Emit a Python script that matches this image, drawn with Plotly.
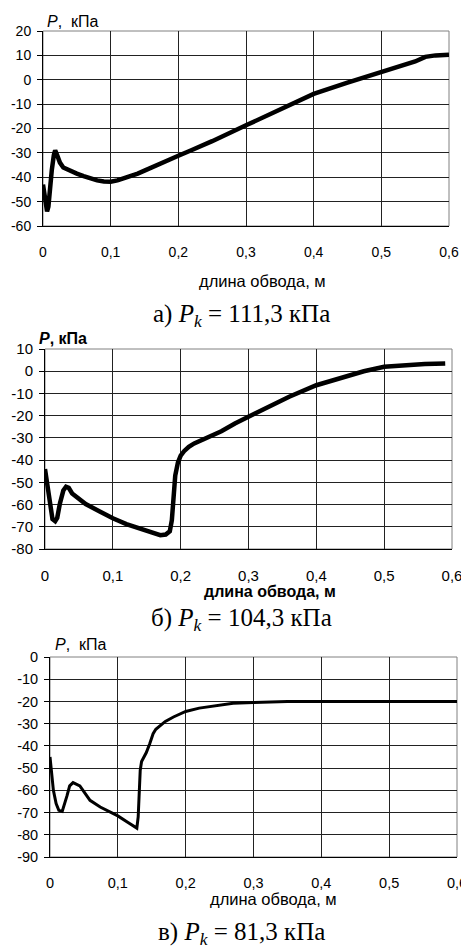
import plotly.graph_objects as go

W, H = 461, 948

# ---------------- data (length along contour, m ; pressure, kPa) -------------
x_a = [0, 0.003, 0.006, 0.008, 0.010, 0.013, 0.016, 0.018, 0.021, 0.025, 0.03,
       0.04, 0.05, 0.06, 0.07, 0.08, 0.09, 0.1, 0.11, 0.12, 0.13, 0.14, 0.15,
       0.16, 0.17, 0.18, 0.19, 0.2, 0.22, 0.25, 0.3, 0.35, 0.4, 0.45, 0.5,
       0.55, 0.565, 0.58, 0.6]
p_a = [-43, -50, -54, -52, -45, -37, -31, -29, -31, -34, -36,
       -37.5, -38.5, -39.5, -40.5, -41.3, -41.7, -41.8, -41.3, -40.5, -39.5, -38.5, -37.3,
       -36, -34.8, -33.5, -32.3, -31.2, -28.8, -25.2, -18.7, -12.5, -5.8, -1.2, 3.2,
       7.5, 9.4, 10, 10.3]

x_b = [0, 0.003, 0.007, 0.011, 0.015, 0.018, 0.022, 0.027, 0.031, 0.035, 0.04,
       0.05, 0.06, 0.08, 0.1, 0.12, 0.14, 0.16, 0.17, 0.178, 0.184, 0.187,
       0.189, 0.192, 0.196, 0.2, 0.205, 0.212, 0.22, 0.24, 0.26, 0.28, 0.3,
       0.33, 0.36, 0.4, 0.44, 0.47, 0.5, 0.53, 0.56, 0.59]
p_b = [-44, -51, -61, -66.5, -67.5, -66, -59.5, -53.7, -52, -52.5, -55,
       -57.5, -59.8, -63, -66.2, -68.8, -71, -73, -73.8, -73.5, -72, -67,
       -57, -47, -41, -38, -36, -34, -32.5, -30, -27, -23.5, -20.5,
       -16, -11.5, -6.3, -2.5, 0, 2, 2.8, 3.2, 3.5]

x_c = [0, 0.002, 0.005, 0.009, 0.013, 0.018, 0.022, 0.025, 0.029, 0.034, 0.044,
       0.059, 0.074, 0.09, 0.1, 0.115, 0.125, 0.128, 0.13, 0.131, 0.132, 0.133,
       0.135, 0.142, 0.147, 0.152, 0.156, 0.16, 0.17, 0.182, 0.2, 0.22, 0.25,
       0.27, 0.3, 0.32, 0.35, 0.4, 0.45, 0.5, 0.55, 0.6]
p_c = [-45, -52, -60, -66, -69, -69.5, -66, -62.5, -58, -56.5, -58,
       -64.5, -67.5, -70, -71.5, -74.5, -76.5, -77, -72, -64, -56, -51,
       -47, -43, -39, -34.5, -32.5, -31.5, -29, -27, -24.5, -23, -21.5,
       -20.8, -20.5, -20.2, -20, -20, -20, -20, -20, -20]

x_ticks = [0, 0.1, 0.2, 0.3, 0.4, 0.5, 0.6]
x_ticktext = ["0", "0,1", "0,2", "0,3", "0,4", "0,5", "0,6"]
y_ticks_a = [20, 10, 0, -10, -20, -30, -40, -50, -60]
y_ticks_b = [10, 0, -10, -20, -30, -40, -50, -60, -70, -80]
y_ticks_c = [0, -10, -20, -30, -40, -50, -60, -70, -80, -90]

captions = ["а) <i>P</i><sub><i>k</i></sub> = 111,3 кПа",
            "б) <i>P</i><sub><i>k</i></sub> = 104,3 кПа",
            "в) <i>P</i><sub><i>k</i></sub> = 81,3 кПа"]
x_title = "длина обвода, м"
y_title = "<i>P</i>,\u00a0\u00a0кПа"
y_title_bold = "<b><i>P</i>, кПа</b>"

# ---------------- layout geometry (pixels) -----------------------------------
def px(x):
    return x / W


def py(y):
    return 1 - y / H


panels = [
    dict(x=x_a, y=p_a, yt=y_ticks_a, left=43, right=449, top=31, bottom=226,
         lw=4.5, tick_size=14),
    dict(x=x_b, y=p_b, yt=y_ticks_b, left=45, right=452, top=349, bottom=549,
         lw=4.5, tick_size=15),
    dict(x=x_c, y=p_c, yt=y_ticks_c, left=50, right=457, top=657, bottom=857,
         lw=3, tick_size=14.5),
]

fig = go.Figure()
layout = dict(
    template="none",
    width=W, height=H, margin=dict(l=0, r=0, t=0, b=0, pad=0),
    paper_bgcolor="white", plot_bgcolor="white", showlegend=False,
    font=dict(family="Liberation Sans, Arial, sans-serif", color="black", size=14),
    separators=", ",
)
shapes = []
annotations = []

for i, p in enumerate(panels):
    n = "" if i == 0 else str(i + 1)
    xa, ya = "x" + n, "y" + n
    fig.add_trace(go.Scatter(
        x=p["x"], y=p["y"], mode="lines", xaxis=xa, yaxis=ya,
        line=dict(color="black", width=p["lw"]),
        hoverinfo="skip"))
    layout["xaxis" + n] = dict(
        domain=[px(p["left"]), px(p["right"])], anchor=ya, automargin=False,
        range=[0, 0.6], tickvals=x_ticks, ticktext=x_ticktext,
        showgrid=True, gridcolor="#222222", gridwidth=1, zeroline=False,
        showline=True, linecolor="black", linewidth=1,
        ticks="", ticklabelstandoff=13, ticklabeloverflow="allow",
        tickfont=dict(size=p["tick_size"]))
    layout["yaxis" + n] = dict(
        domain=[py(p["bottom"]), py(p["top"])], anchor=xa, automargin=False,
        range=[min(p["yt"]), max(p["yt"])], tickvals=p["yt"],
        ticktext=[str(v) for v in p["yt"]],
        showgrid=True, gridcolor="#222222", gridwidth=1, zeroline=False,
        showline=True, linecolor="black", linewidth=1,
        ticks="outside", ticklen=5, tickcolor="black", ticklabelstandoff=3,
        tickfont=dict(size=p["tick_size"]))
    shapes.append(dict(type="rect", xref=xa + " domain", yref=ya + " domain",
                       x0=0, x1=1, y0=0, y1=1,
                       line=dict(color="#808080", width=1), layer="below"))

# y-axis titles
annotations.append(dict(text=y_title, x=px(45), y=py(21), xanchor="left", yanchor="middle",
                        font=dict(size=16)))
annotations.append(dict(text=y_title_bold, x=px(37), y=py(338), xanchor="left", yanchor="middle",
                        font=dict(size=16)))
annotations.append(dict(text=y_title, x=px(53), y=py(644), xanchor="left", yanchor="middle",
                        font=dict(size=16)))
# x-axis titles
annotations.append(dict(text=x_title, x=px(262), y=py(281), xanchor="center", yanchor="middle",
                        font=dict(size=16.5)))
annotations.append(dict(text="<b>" + x_title + "</b>", x=px(270), y=py(591), xanchor="center",
                        yanchor="middle", font=dict(size=16)))
annotations.append(dict(text=x_title, x=px(273), y=py(899), xanchor="center", yanchor="middle",
                        font=dict(size=16.5)))
# captions
for cap, yc in zip(captions, [316, 619, 933]):
    annotations.append(dict(text=cap, x=px(241), y=py(yc), xanchor="center", yanchor="middle",
                            font=dict(size=25, family="Liberation Serif, Times New Roman, serif")))

for a in annotations:
    a.update(xref="paper", yref="paper", showarrow=False)

layout["shapes"] = shapes
layout["annotations"] = annotations
fig.update_layout(**layout)
fig.write_html(
    "out.html",
    config={"displayModeBar": False},
    post_script="document.body.style.margin='0';document.body.style.padding='0';"
                "document.body.style.overflow='hidden';",
)
